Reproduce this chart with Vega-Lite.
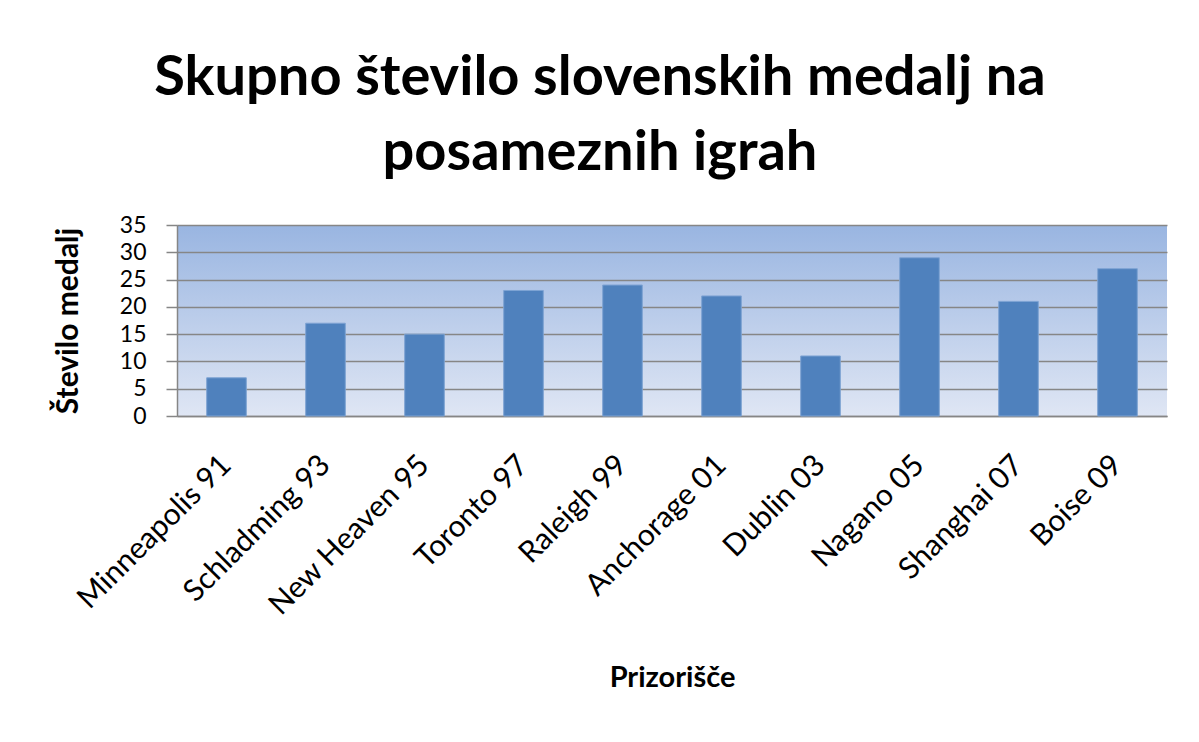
{
  "$schema": "https://vega.github.io/schema/vega-lite/v6.json",
  "autosize": "none",
  "width": 990,
  "height": 191,
  "padding": {"left": 177, "top": 225, "right": 32, "bottom": 326},
  "background": "white",
  "config": {
    "font": "Lato",
    "view": {
      "stroke": null,
      "fill": {
        "gradient": "linear",
        "x1": 0, "y1": 0, "x2": 0, "y2": 1,
        "stops": [
          {"offset": 0, "color": "#99b5e1"},
          {"offset": 1, "color": "#dfe6f4"}
        ]
      }
    }
  },
  "title": {
    "text": ["Skupno število slovenskih medalj na", "posameznih igrah"],
    "font": "Lato",
    "fontSize": 56,
    "fontWeight": "bold",
    "color": "black",
    "lineHeight": 75,
    "anchor": "middle",
    "frame": "group",
    "dx": -72,
    "offset": 32
  },
  "data": {
    "values": [
      {"kraj": "Minneapolis 91", "medalje": 7},
      {"kraj": "Schladming 93", "medalje": 17},
      {"kraj": "New Heaven 95", "medalje": 15},
      {"kraj": "Toronto 97", "medalje": 23},
      {"kraj": "Raleigh 99", "medalje": 24},
      {"kraj": "Anchorage 01", "medalje": 22},
      {"kraj": "Dublin 03", "medalje": 11},
      {"kraj": "Nagano 05", "medalje": 29},
      {"kraj": "Shanghai 07", "medalje": 21},
      {"kraj": "Boise 09", "medalje": 27}
    ]
  },
  "mark": {"type": "bar", "color": "#4f81bd", "stroke": "#7ea3d3", "strokeWidth": 1},
  "encoding": {
    "x": {
      "field": "kraj",
      "type": "nominal",
      "sort": null,
      "scale": {"paddingInner": 0.6, "paddingOuter": 0.3},
      "axis": {
        "title": "Prizorišče",
        "titleFont": "Lato",
        "titleFontSize": 29,
        "titleFontWeight": "bold",
        "titleColor": "black",
        "titlePadding": 47,
        "labelFont": "Lato",
        "labelFontSize": 30,
        "labelColor": "black",
        "labelAngle": -45,
        "labelAlign": "right",
        "labelBaseline": "middle",
        "labelPadding": 44,
        "labelLimit": 0,
        "labelOverlap": false,
        "ticks": false,
        "domainColor": "#868686",
        "domainWidth": 1.5
      }
    },
    "y": {
      "field": "medalje",
      "type": "quantitative",
      "scale": {"domain": [0, 35], "nice": false},
      "axis": {
        "title": "Število medalj",
        "titleFont": "Lato",
        "titleFontSize": 30,
        "titleFontWeight": "bold",
        "titleColor": "black",
        "titlePadding": 36,
        "values": [0, 5, 10, 15, 20, 25, 30, 35],
        "labelFont": "Lato",
        "labelFontSize": 23,
        "labelColor": "black",
        "labelPadding": 20,
        "labelOverlap": false,
        "labelBaseline": "middle",
        "tickSize": 11,
        "tickColor": "#868686",
        "tickWidth": 1.5,
        "domainColor": "#868686",
        "domainWidth": 1.5,
        "grid": true,
        "gridColor": "#868686",
        "gridWidth": 1.5
      }
    }
  }
}
